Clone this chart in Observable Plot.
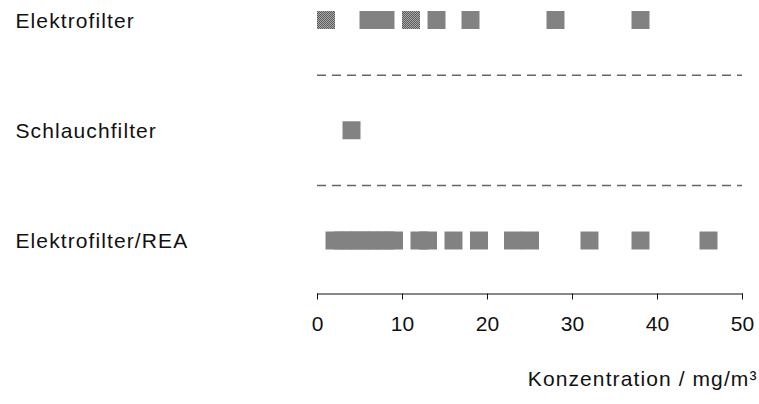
<!DOCTYPE html>
<html>
<head>
<meta charset="utf-8">
<script src="https://cdn.jsdelivr.net/npm/d3@7"></script>
<script src="https://cdn.jsdelivr.net/npm/@observablehq/plot@0.6"></script>
<style>
  html, body { margin: 0; padding: 0; background: #fff; }
  g[aria-label="text"] text { letter-spacing: 1.1px; }
</style>
</head>
<body>
<div id="chart"></div>
<script>
// Categories (rows, top to bottom)
const categories = ["Elektrofilter", "Schlauchfilter", "Elektrofilter/REA"];
// Measured concentrations per category (mg/m³)
const elektrofilter = [1, 6, 8, 11, 14, 18, 28, 38];
const schlauchfilter = [4];
const elektrofilterREA = [2, 3, 4, 5, 6, 7, 8, 9, 12, 13, 16, 19, 23, 25, 32, 38, 46];
// Axis
const xTicks = [0, 10, 20, 30, 40, 50];
const axisTitle = "Konzentration / mg/m³";

const series = [elektrofilter, schlauchfilter, elektrofilterREA];
const rows = series.flatMap((vals, i) => vals.map(v => ({cat: categories[i], i, v})));
const separators = categories.slice(1).map((_, i) => i + 0.5);

const chart = Plot.plot({
  width: 759,
  height: 404,
  marginLeft: 317,
  marginRight: 17,
  marginTop: 19,
  marginBottom: 110.5,
  style: {fontFamily: "'Liberation Sans', Arial, sans-serif", fontSize: "21px", color: "#111", background: "#fff"},
  x: {domain: [0, 50], ticks: xTicks, tickSize: 6, tickPadding: 16, line: true, label: null},
  y: {domain: [0, categories.length - 1], range: [19.5, 240], axis: null},
  marks: [
    Plot.ruleY(separators, {stroke: "#666", strokeWidth: 1.5, strokeDasharray: "9,6"}),
    Plot.dot(rows, {x: "v", y: "i", symbol: "square", r: 10.15, fill: "url(#chk)", stroke: null}),
    Plot.text(categories, {y: (d, i) => i, frameAnchor: "left", dx: -302, dy: 1, textAnchor: "start", fill: "#111"}),
    Plot.text([axisTitle], {frameAnchor: "bottom-right", dx: 15, dy: 92, textAnchor: "end", fill: "#111"})
  ]
});

// checkerboard fill pattern
const ns = "http://www.w3.org/2000/svg";
const defs = document.createElementNS(ns, "defs");
defs.innerHTML = `<pattern id="chk" width="2" height="2" patternUnits="userSpaceOnUse">
  <rect width="2" height="2" fill="#a6a6a6"></rect>
  <rect x="0" y="0" width="1" height="1" fill="#5e5e5e"></rect>
  <rect x="1" y="1" width="1" height="1" fill="#5e5e5e"></rect>
</pattern>`;
chart.insertBefore(defs, chart.firstChild);

document.getElementById("chart").appendChild(chart);
</script>
</body>
</html>
